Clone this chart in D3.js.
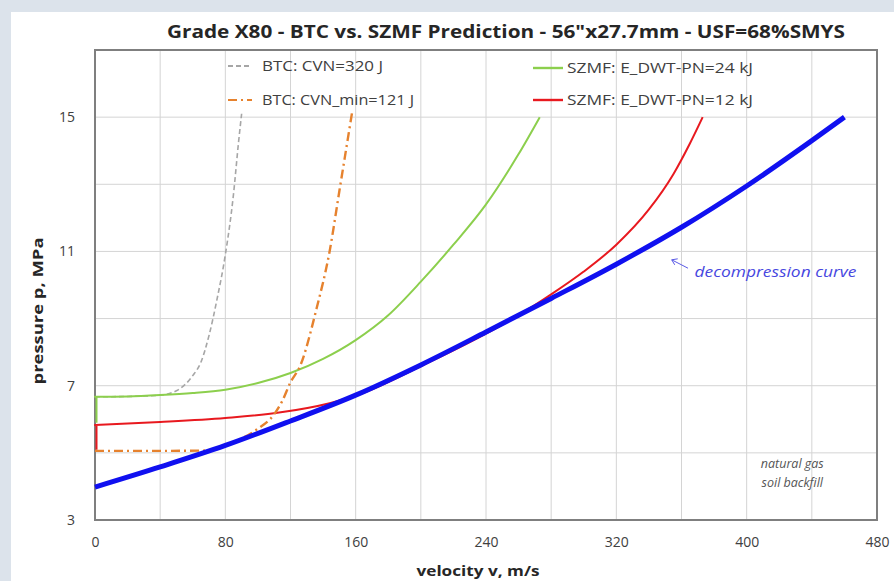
<!DOCTYPE html>
<html>
<head>
<meta charset="utf-8">
<script src="https://d3js.org/d3.v7.min.js"></script>
<style>
  body { margin: 0; background: #dce3eb; }
</style>
</head>
<body>
<div id="chart"></div>
<script>

// data: [velocity m/s, pressure MPa]
var decompression = [[0,3.98],[40,4.58],[80,5.22],[120,5.95],[160,6.72],[200,7.62],[240,8.6],[280,9.6],[320,10.62],[360,11.72],[400,12.95],[440,14.3],[460,15.0]];
var szmf24 = [[0,5.9],[0,6.67],[20,6.68],[40,6.72],[60,6.78],[80,6.88],[100,7.08],[120,7.38],[140,7.8],[160,8.36],[180,9.1],[200,10.1],[220,11.2],[240,12.4],[260,13.9],[273,15.0]];
var szmf12 = [[0,5.09],[0,5.83],[40,5.92],[80,6.04],[113,6.2],[144,6.48],[160,6.7],[200,7.58],[240,8.55],[260,9.1],[280,9.72],[300,10.4],[320,11.2],[340,12.25],[355,13.3],[365,14.2],[373,15.0]];
var btc320 = [[0,6.67],[20,6.68],[40,6.72],[50,6.85],[60,7.3],[65,7.7],[70,8.5],[75,9.6],[80,10.9],[85,12.7],[88,14.2],[90,15.1]];
var btc121 = [[0,5.06],[40,5.06],[70,5.07],[85,5.32],[100,5.72],[110,6.15],[115,6.55],[120,7.1],[126,7.6],[136,9.3],[144,11.0],[150,12.8],[155,14.3],[158,15.2]];

var xTicks = [0,80,160,240,320,400,480];
var yTicks = [3,7,11,15];
var legendNames = ["BTC: CVN=320 J","BTC: CVN_min=121 J","SZMF: E_DWT-PN=24 kJ","SZMF: E_DWT-PN=12 kJ"];

var W = 894, H = 581;
var margin = {top: 50, right: 17, bottom: 61, left: 95},
    width = W - margin.left - margin.right,
    height = H - margin.top - margin.bottom;

var root = d3.select("#chart").append("svg")
    .attr("width", W).attr("height", H)
    .style("font-family", "'Open Sans', sans-serif");

// white panel
root.append("rect").attr("x", 11).attr("y", 12).attr("width", W - 11).attr("height", H - 12).attr("fill", "#fff");

var svg = root.append("g").attr("transform", "translate(" + margin.left + "," + margin.top + ")");

var x = d3.scaleLinear().domain([0, 480]).range([0, width]);
var y = d3.scaleLinear().domain([3, 17]).range([height, 0]);

// grid
svg.append("g").selectAll("line").data(d3.range(40, 480, 40)).enter().append("line")
  .attr("x1", d => x(d)).attr("x2", d => x(d)).attr("y1", 0).attr("y2", height)
  .attr("stroke", "#d4d4d4").attr("stroke-width", 1);
svg.append("g").selectAll("line").data(d3.range(5, 17, 2)).enter().append("line")
  .attr("y1", d => y(d)).attr("y2", d => y(d)).attr("x1", 0).attr("x2", width)
  .attr("stroke", "#d4d4d4").attr("stroke-width", 1);

// frame (under the curves, so the v=0 steps stay visible)
svg.append("rect").attr("width", width).attr("height", height)
  .attr("fill", "none").attr("stroke", "#7f7f7f").attr("stroke-width", 2);

// axes (labels only)
var xAxis = svg.append("g").attr("transform", "translate(0," + height + ")")
  .call(d3.axisBottom(x).tickValues(xTicks).tickSize(0).tickPadding(17));
var yAxis = svg.append("g")
  .call(d3.axisLeft(y).tickValues(yTicks).tickSize(0).tickPadding(20));
[xAxis, yAxis].forEach(function(a) {
  a.select(".domain").remove();
  a.selectAll("text").attr("fill", "#404040").attr("font-size", "14px")
    .style("font-family", "'Open Sans', sans-serif");
});

var line = d3.line().x(d => x(d[0])).y(d => y(d[1])).curve(d3.curveMonotoneX);

// a leading vertical step at v=0 is drawn straight, the rest smoothed
function pathFor(data) {
  if (data[0][0] === data[1][0]) {
    return "M" + (x(data[0][0]) + 1.5) + "," + y(data[0][1]) + "L" + (x(data[1][0]) + 1.5) + "," + y(data[1][1]) + "L" + line(data.slice(1)).slice(1);
  }
  return line(data);
}

function draw(data, color, w, dash) {
  svg.append("path").datum(data)
    .attr("fill", "none").attr("stroke", color).attr("stroke-width", w)
    .attr("stroke-dasharray", dash || null)
    .attr("stroke-linejoin", "round")
    .attr("d", pathFor);
}
var colors = ["#a6a6a6", "#e6822e", "#8ccf4d", "#e8191f"];
var dashes = ["5,3", "9,4,2,4", null, null];

draw(btc320, colors[0], 1.6, dashes[0]);
draw(szmf24, colors[2], 2, null);
draw(szmf12, colors[3], 2, null);
draw(btc121, colors[1], 2.4, dashes[1]);
draw(decompression, "#1010f0", 5, null);

// legend
var legPos = [[133, 16], [133, 50], [438, 18], [438, 50]];
var legLen = [121, 152, 186, 186];
legendNames.forEach(function(name, i) {
  var g = svg.append("g").attr("transform", "translate(" + legPos[i][0] + "," + legPos[i][1] + ")");
  g.append("line").attr("x1", 0).attr("x2", i < 2 ? 24 : 30).attr("y1", 0).attr("y2", 0)
    .attr("stroke", colors[i]).attr("stroke-width", i < 2 ? 2 : 2.4)
    .attr("stroke-dasharray", dashes[i]);
  g.append("text").attr("x", 34).attr("y", 0).attr("dy", "0.35em")
    .attr("font-size", "15px").attr("fill", "#404040")
    .attr("textLength", legLen[i]).attr("lengthAdjust", "spacingAndGlyphs")
    .text(name);
});

// annotations
svg.append("line").attr("x1", x(364)).attr("y1", y(10.5)).attr("x2", x(354)).attr("y2", y(10.75))
  .attr("stroke", "#5a5ae6").attr("stroke-width", 1);
svg.append("path").attr("d", "M" + x(354) + "," + y(10.75) + " l6,-1 M" + x(354) + "," + y(10.75) + " l3,5")
  .attr("stroke", "#5a5ae6").attr("fill", "none");
svg.append("text").attr("x", x(368)).attr("y", y(10.39)).attr("dy", "0.35em")
  .attr("font-size", "14px").attr("font-style", "italic").attr("fill", "#4646e0")
  .attr("textLength", 162).attr("lengthAdjust", "spacingAndGlyphs")
  .text("decompression curve");
svg.append("text").attr("x", x(428)).attr("y", y(4.55))
  .attr("text-anchor", "middle").attr("font-size", "12.5px").attr("font-style", "italic").attr("fill", "#555")
  .text("natural gas");
svg.append("text").attr("x", x(428)).attr("y", y(3.98))
  .attr("text-anchor", "middle").attr("font-size", "12.5px").attr("font-style", "italic").attr("fill", "#555")
  .text("soil backfill");

// title and axis titles
root.append("text").attr("x", 506).attr("y", 38).attr("text-anchor", "middle")
  .attr("font-weight", "bold").attr("font-size", "18px").attr("fill", "#262626")
  .attr("textLength", 678).attr("lengthAdjust", "spacingAndGlyphs")
  .text("Grade X80 - BTC vs. SZMF Prediction - 56\"x27.7mm - USF=68%SMYS");
root.append("text").attr("x", 478).attr("y", 576).attr("text-anchor", "middle")
  .attr("font-weight", "bold").attr("font-size", "15px").attr("fill", "#262626")
  .attr("textLength", 123).attr("lengthAdjust", "spacingAndGlyphs")
  .text("velocity v, m/s");
root.append("text").attr("transform", "translate(43,311) rotate(-90)").attr("text-anchor", "middle")
  .attr("font-weight", "bold").attr("font-size", "15px").attr("fill", "#262626")
  .attr("textLength", 147).attr("lengthAdjust", "spacingAndGlyphs")
  .text("pressure p, MPa");

</script>
</body>
</html>
